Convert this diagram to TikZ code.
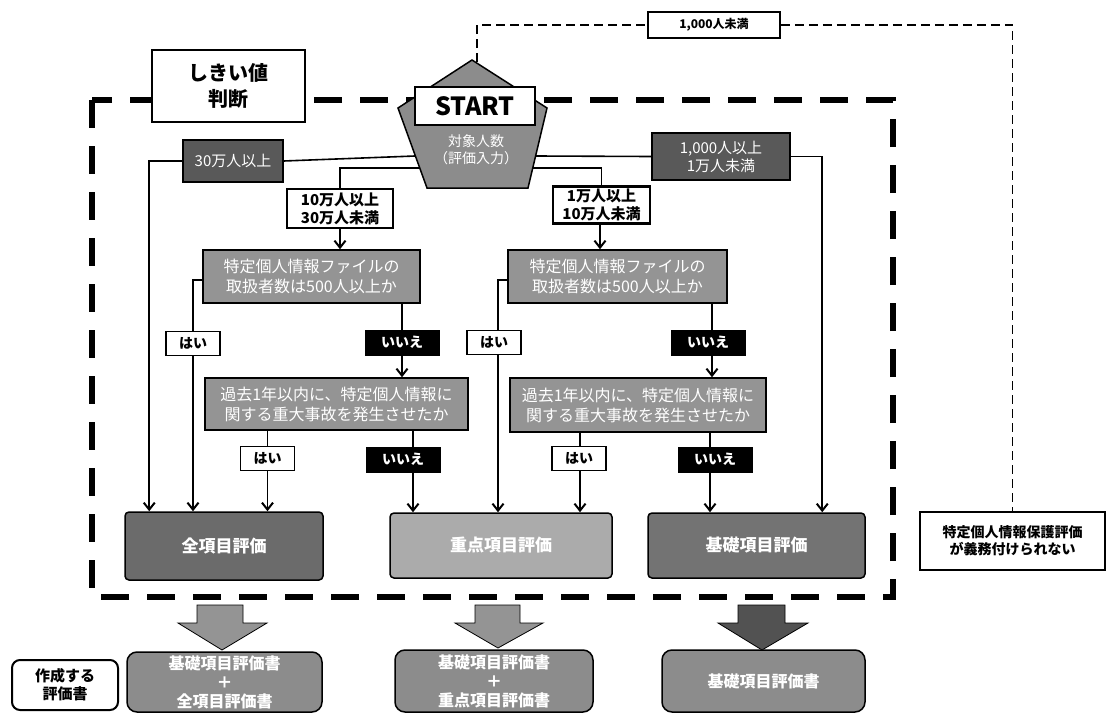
\documentclass[tikz,border=0pt]{standalone}
\usepackage{fontspec}
\setmainfont{Noto Sans CJK JP}
\usetikzlibrary{arrows.meta,calc}
\begin{document}
\begin{tikzpicture}[x=1pt,y=-1pt,
 every node/.style={inner sep=0pt, align=center},
 gbox/.style={draw=black, line width=1.5pt, text=white, font=\fontsize{16}{20}\selectfont},
 qbox/.style={gbox, fill=black!42},
 wlab/.style={draw=black, line width=2.2pt, fill=white, text=black, font=\bfseries\fontsize{15}{18}\selectfont},
 yesb/.style={draw=black, line width=1.5pt, fill=white, text=black, minimum width=54pt, minimum height=24pt, font=\bfseries\fontsize{14}{16}\selectfont},
 nob/.style={draw=black, fill=black, text=white, minimum width=74pt, minimum height=25pt, font=\bfseries\fontsize{14}{16}\selectfont},
 res/.style={gbox, rounded corners=4pt, font=\bfseries\fontsize{17}{20}\selectfont},
 outb/.style={draw=black, line width=1.5pt, rounded corners=10pt, fill=black!45, text=white, font=\bfseries\fontsize{16}{19}\selectfont},
 conn/.style={line width=1.6pt},
 arr/.style={conn, -{Straight Barb[length=7pt,width=11pt,line width=2pt]}},
 thin dashline/.style={line width=1.5pt, dash pattern=on 9pt off 5pt}
]
\useasboundingbox (0,0) rectangle (1112,715);

% big dashed frame
\draw[line width=6pt, dash pattern=on 28pt off 18pt] (92,100) rectangle (893,597);

% threshold box
\node[draw=black, line width=2.5pt, fill=white, minimum width=153pt, minimum height=72pt, font=\bfseries\fontsize{20}{26}\selectfont] (thr) at (228.5,86) {しきい値\\判断};

% pentagon points on its edges
\coordinate (ptop) at (472,60);
\coordinate (pl1) at (415,156);
\coordinate (pl2) at (420,168);
\coordinate (pr1) at (536,156);
\coordinate (pr2) at (533,168);

% boxes
\node[gbox, fill=black!65, minimum width=100pt, minimum height=42pt, font=\fontsize{15}{18}\selectfont] (b30) at (233,161) {30万人以上};
\node[gbox, fill=black!65, minimum width=138pt, minimum height=47pt, font=\fontsize{15}{18}\selectfont] (b1000) at (721,156.5) {1,000人以上\\1万人未満};
\node[wlab, minimum width=106pt, minimum height=39pt] (b10) at (340,208.5) {10万人以上\\30万人未満};
\node[wlab, minimum width=97pt, minimum height=37pt] (b1) at (601.5,205) {1万人以上\\10万人未満};

\node[qbox, minimum width=217pt, minimum height=53pt] (q1) at (311.5,276.5) {特定個人情報ファイルの\\取扱者数は500人以上か};
\node[qbox, minimum width=219pt, minimum height=53pt] (q2) at (617.5,276.5) {特定個人情報ファイルの\\取扱者数は500人以上か};
\node[qbox, minimum width=263pt, minimum height=52pt] (q3) at (336.5,404) {過去1年以内に、特定個人情報に\\関する重大事故を発生させたか};
\node[qbox, minimum width=256pt, minimum height=54pt] (q4) at (638,405) {過去1年以内に、特定個人情報に\\関する重大事故を発生させたか};

\node[yesb] (yes1) at (193,343.5) {はい};
\node[nob] (no1) at (402,342.5) {いいえ};
\node[yesb] (yes2) at (494,342.5) {はい};
\node[nob] (no2) at (708,342.5) {いいえ};
\node[yesb] (yes3) at (267.5,458.5) {はい};
\node[nob] (no3) at (403,459.5) {いいえ};
\node[yesb] (yes4) at (579,458.5) {はい};
\node[nob] (no4) at (715,459.5) {いいえ};

\node[res, fill=black!58, minimum width=198pt, minimum height=68pt] (zen) at (224,546) {全項目評価};
\node[res, fill=black!33, minimum width=222pt, minimum height=65pt] (ju) at (501,545.5) {重点項目評価};
\node[res, fill=black!55, minimum width=217pt, minimum height=65pt] (ki) at (756.5,545.5) {基礎項目評価};

% outputs
\node[outb, minimum width=195pt, minimum height=60pt] (out1) at (224.5,682) {基礎項目評価書\\＋\\全項目評価書};
\node[outb, minimum width=198pt, minimum height=62pt] (out2) at (494,681) {基礎項目評価書\\＋\\重点項目評価書};
\node[outb, minimum width=203pt, minimum height=62pt] (out3) at (763.5,681) {基礎項目評価書};
\node[draw=black, line width=2pt, rounded corners=8pt, fill=white, minimum width=106pt, minimum height=50pt, font=\bfseries\fontsize{15}{18}\selectfont] (sak) at (65,685) {作成する\\評価書};

% outside boxes
\node[draw=black, line width=1.5pt, fill=white, minimum width=132pt, minimum height=26pt, font=\bfseries\fontsize{12}{14}\selectfont] (lt1000) at (714,25) {1,000人未満};
\node[draw=black, line width=1.5pt, fill=white, minimum width=185pt, minimum height=58pt, font=\bfseries\fontsize{14}{17}\selectfont] (nogi) at (1012.5,541) {特定個人情報保護評価\\が義務付けられない};

% connectors from start
\draw[conn] (pl1) -- (b30.east);
\draw[arr] (b30.west) -| ($(zen.north west)+(25,0)$);
\draw[conn] (pr1) -- (b1000.west);
\draw[arr] (b1000.east) -| ($(ki.north west)+(175,0)$);
\draw[conn] (pl2) -| (b10.north);
\draw[conn] (pr2) -| (b1.north);
\draw[arr] (b10.south) -- (b10.south |- q1.north);
\draw[arr] ($(b1.south)+(-1.5,0)$) -- ($(b1.south |- q2.north)+(-1.5,0)$);

% left branch
\draw[conn] (q1.west |- 0,280) -| (yes1.north);
\draw[arr] (yes1.south) -- (yes1.south |- zen.north);
\draw[conn] (q1.south -| no1.north) -- (no1.north);
\draw[arr] (no1.south) -- (no1.south |- q3.north);
\draw[conn] (q3.south -| yes3.north) -- (yes3.north);
\draw[arr] (yes3.south) -- (yes3.south |- zen.north);
\draw[conn] ($(q3.south -| no3.north)+(10,0)$) -- ($(no3.north)+(10,0)$);
\draw[arr] ($(no3.south)+(10,0)$) -- ($(no3.south |- ju.north)+(10,0)$);

% right branch
\draw[conn] (q2.west |- 0,280) -| ($(yes2.north)+(4,0)$);
\draw[arr] ($(yes2.south)+(4,0)$) -- ($(yes2.south |- ju.north)+(4,0)$);
\draw[conn] ($(q2.south -| no2.north)+(4,0)$) -- ($(no2.north)+(4,0)$);
\draw[arr] ($(no2.south)+(4,0)$) -- ($(no2.south |- q4.north)+(4,0)$);
\draw[conn] ($(q4.south -| yes4.north)+(1,0)$) -- ($(yes4.north)+(1,0)$);
\draw[arr] ($(yes4.south)+(1,0)$) -- ($(yes4.south |- ki.north)+(1,0)$ -| 580,0);
\draw[conn] ($(q4.south -| no4.north)+(-5,0)$) -- ($(no4.north)+(-5,0)$);
\draw[arr] ($(no4.south)+(-5,0)$) -- ($(no4.south |- ki.north)+(-5,0)$);

% pentagon over lines
\filldraw[fill=black!45, draw=black, line width=1.5pt] (ptop) -- (547,108) -- (528,188) -- (427,188) -- (398,108) -- cycle;
\node[text=white, font=\fontsize{14}{17}\selectfont] (ptext) at (476,150) {対象人数\\（評価入力）};
\node[draw=black, line width=2.5pt, fill=white, minimum width=120pt, minimum height=38pt, font=\bfseries\fontsize{25}{28}\selectfont] (start) at (475,106) {START};

% dashed line to outside
\draw[thin dashline] (477,62) |- (lt1000.west);
\draw[thin dashline] (lt1000.east) -| (nogi.north);

% block arrows
\filldraw[fill=black!42, draw=black, line width=0.8pt] (197,605) -- (243,605) -- (243,623) -- (267,623) -- (222,650) -- (178,623) -- (197,623) -- cycle;
\filldraw[fill=black!42, draw=black, line width=0.8pt] (475,605) -- (520,605) -- (520,623) -- (543,623) -- (498,648) -- (455,623) -- (475,623) -- cycle;
\filldraw[fill=black!68, draw=black, line width=0.8pt] (738,605) -- (785,605) -- (785,623) -- (808,623) -- (762,650) -- (718,623) -- (738,623) -- cycle;
\end{tikzpicture}
\end{document}
